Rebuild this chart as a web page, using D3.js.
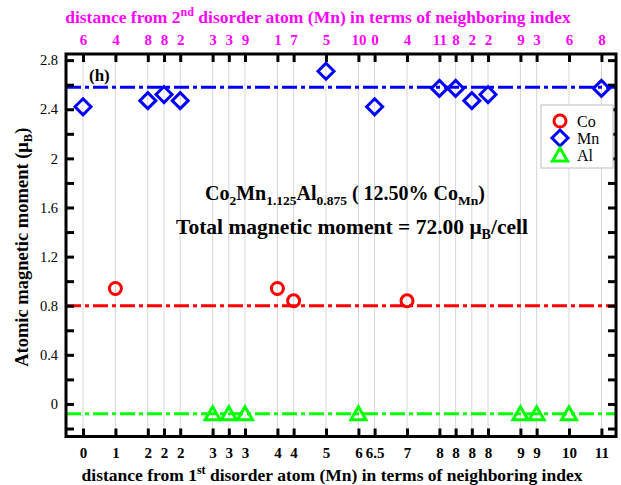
<!DOCTYPE html>
<html>
<head>
<meta charset="utf-8">
<script src="https://cdn.jsdelivr.net/npm/d3@7"></script>
<style>
  html, body { margin: 0; padding: 0; background: #fff; }
  svg { display: block; }
  text { font-family: "Liberation Serif", "Times New Roman", serif; }
</style>
</head>
<body>
<svg id="chart" width="621" height="485"></svg>
<script>
// Site slots along the x axis (one slot per neighbouring site)
const tickPos = [0, 2, 4, 5, 6, 8, 9, 10, 12, 13, 15, 17, 18, 20, 22, 23, 24, 25, 27, 28, 30, 32];
// Neighbouring index relative to the 1st disorder atom (bottom axis)
const nearLabels = ["0", "1", "2", "2", "2", "3", "3", "3", "4", "4", "5", "6", "6.5", "7", "8", "8", "8", "8", "9", "9", "10", "11"];
// Neighbouring index relative to the 2nd disorder atom (top axis)
const farLabels = ["6", "4", "8", "8", "2", "3", "3", "9", "1", "7", "5", "10", "0", "4", "11", "8", "2", "2", "9", "3", "6", "8"];

// Atomic moments (μB) per species
const coPos = [2, 12, 13, 20];
const coVal = [0.94, 0.94, 0.84, 0.84];
const mnPos = [0, 4, 5, 6, 15, 18, 22, 23, 24, 25, 32];
const mnVal = [2.42, 2.47, 2.52, 2.47, 2.71, 2.42, 2.57, 2.57, 2.47, 2.52, 2.57];
const alPos = [8, 9, 10, 17, 27, 28, 30];
const alVal = [-0.08, -0.08, -0.08, -0.08, -0.08, -0.08, -0.08];

// Bulk reference moments
const refLevels = [
  { name: "Co", value: 0.80 },
  { name: "Mn", value: 2.58 },
  { name: "Al", value: -0.08 }
];
const yTicks = [0, 0.4, 0.8, 1.2, 1.6, 2, 2.4, 2.8];
const yMinor = [-0.2, 0.2, 0.6, 1.0, 1.4, 1.8, 2.2, 2.6];

const colors = { Co: "#ff0000", Mn: "#0000ff", Al: "#00ff00" };

const svg = d3.select("#chart");
const L = 66, R = 616, T = 54, B = 436.5;

const x = d3.scaleLinear().domain([-1.05, 32.9]).range([L, R]);
const y = d3.scaleLinear().domain([-0.265, 2.85]).range([B, T]);

// vertical grid lines at each site
svg.append("g").selectAll("line").data(tickPos).join("line")
  .attr("x1", d => x(d)).attr("x2", d => x(d))
  .attr("y1", T).attr("y2", B)
  .attr("stroke", "#d6d6d6").attr("stroke-width", 1);

// reference dash-dot lines
svg.append("g").selectAll("line").data(refLevels).join("line")
  .attr("x1", L).attr("x2", R)
  .attr("y1", d => y(d.value)).attr("y2", d => y(d.value))
  .attr("stroke", d => colors[d.name])
  .attr("stroke-width", 3)
  .attr("stroke-dasharray", "15,4,4,4");

// axes with inward ticks
const axisStyle = g => {
  g.select(".domain").remove();
  g.selectAll(".tick line").attr("stroke", "#000").attr("stroke-width", 3);
};
const tickLen = 8;

svg.append("g").attr("transform", `translate(0,${B})`)
  .call(d3.axisBottom(x).tickValues(tickPos).tickSizeInner(-tickLen).tickSizeOuter(0)
    .tickFormat((d, i) => nearLabels[i]))
  .call(axisStyle)
  .call(g => g.selectAll(".tick text")
    .attr("y", 11).attr("font-size", 15).attr("font-weight", "bold").attr("fill", "#000")
    .attr("font-family", "Liberation Serif"));

svg.append("g").attr("transform", `translate(0,${T})`)
  .call(d3.axisTop(x).tickValues(tickPos).tickSizeInner(-tickLen).tickSizeOuter(0)
    .tickFormat((d, i) => farLabels[i]))
  .call(axisStyle)
  .call(g => g.selectAll(".tick text")
    .attr("y", -9).attr("font-size", 15).attr("font-weight", "bold").attr("fill", "#ff00ff")
    .attr("font-family", "Liberation Serif"));

const yAll = yTicks.concat(yMinor);
svg.append("g").attr("transform", `translate(${L},0)`)
  .call(d3.axisLeft(y).tickValues(yAll).tickSizeInner(-tickLen).tickSizeOuter(0)
    .tickFormat(d => yTicks.includes(d) ? d3.format("")(d) : ""))
  .call(axisStyle)
  .call(g => g.selectAll(".tick text")
    .attr("x", -8).attr("font-size", 14.5).attr("fill", "#000")
    .attr("font-family", "Liberation Serif"));

svg.append("g").attr("transform", `translate(${R},0)`)
  .call(d3.axisRight(y).tickValues(yAll).tickSizeInner(-tickLen).tickSizeOuter(0).tickFormat(""))
  .call(axisStyle);

// frame
svg.append("rect").attr("x", L).attr("y", T).attr("width", R - L).attr("height", B - T)
  .attr("fill", "none").attr("stroke", "#000").attr("stroke-width", 3);

// marker shapes
const circlePath = d3.symbol().type(d3.symbolCircle).size(Math.PI * 36)();
const diamondPath = "M0,-8L8,0L0,8L-8,0Z";
const trianglePath = "M0,-7L7.5,6L-7.5,6Z";
const pathFor = name => name === "Co" ? circlePath : name === "Mn" ? diamondPath : trianglePath;

const series = [
  { name: "Co", pos: coPos, val: coVal },
  { name: "Mn", pos: mnPos, val: mnVal },
  { name: "Al", pos: alPos, val: alVal }
];
series.forEach(s => {
  svg.append("g").selectAll("path").data(s.pos.map((p, i) => [p, s.val[i]])).join("path")
    .attr("transform", d => `translate(${x(d[0])},${y(d[1])})`)
    .attr("d", pathFor(s.name))
    .attr("fill", "none")
    .attr("stroke", colors[s.name])
    .attr("stroke-width", 3);
});

// legend
const lg = svg.append("g");
lg.append("rect").attr("x", 541).attr("y", 105).attr("width", 72).attr("height", 63)
  .attr("fill", "#fff").attr("stroke", "#bdbdbd").attr("stroke-width", 1);
series.forEach((s, i) => {
  const cy = 121 + i * 17;
  lg.append("path").attr("transform", `translate(560,${cy})`)
    .attr("d", pathFor(s.name)).attr("fill", "none")
    .attr("stroke", colors[s.name]).attr("stroke-width", 3);
  lg.append("text").attr("x", 577).attr("y", cy + 5.5).attr("font-size", 16).text(s.name);
});

// panel tag
svg.append("text").attr("x", 89).attr("y", 81).attr("font-size", 17).attr("font-weight", "bold").text("(h)");

// composition and total moment
const t1 = svg.append("text").attr("x", 345).attr("y", 200).attr("text-anchor", "middle")
  .attr("font-size", 20).attr("font-weight", "bold");
t1.append("tspan").text("Co");
t1.append("tspan").attr("font-size", 13.5).attr("dy", 5).text("2");
t1.append("tspan").attr("dy", -5).text("Mn");
t1.append("tspan").attr("font-size", 13.5).attr("dy", 5).text("1.125");
t1.append("tspan").attr("dy", -5).text("Al");
t1.append("tspan").attr("font-size", 13.5).attr("dy", 5).text("0.875");
t1.append("tspan").attr("dy", -5).text(" ( 12.50% Co");
t1.append("tspan").attr("font-size", 13.5).attr("dy", 5).text("Mn");
t1.append("tspan").attr("dy", -5).text(")");

const t2 = svg.append("text").attr("x", 352).attr("y", 234).attr("text-anchor", "middle")
  .attr("font-size", 21.5).attr("font-weight", "bold");
t2.append("tspan").text("Total magnetic moment = 72.00 μ");
t2.append("tspan").attr("font-size", 14).attr("dy", 5).text("B");
t2.append("tspan").attr("dy", -5).text("/cell");

// axis titles
const yl = svg.append("text").attr("transform", `translate(28,${(T + B) / 2 + 2}) rotate(-90)`)
  .attr("text-anchor", "middle").attr("font-size", 18.5).attr("font-weight", "bold");
yl.append("tspan").text("Atomic magnetic moment (μ");
yl.append("tspan").attr("font-size", 12.5).attr("dy", 4).text("B");
yl.append("tspan").attr("dy", -4).text(")");

const xb = svg.append("text").attr("x", 332).attr("y", 481).attr("text-anchor", "middle")
  .attr("font-size", 17.5).attr("font-weight", "bold");
xb.append("tspan").text("distance from 1");
xb.append("tspan").attr("font-size", 12).attr("dy", -7).text("st");
xb.append("tspan").attr("dy", 7).text(" disorder atom (Mn) in terms of neighboring index");

const xt = svg.append("text").attr("x", 318).attr("y", 23).attr("text-anchor", "middle")
  .attr("font-size", 17.5).attr("font-weight", "bold").attr("fill", "#ff00ff");
xt.append("tspan").text("distance from 2");
xt.append("tspan").attr("font-size", 12).attr("dy", -7).text("nd");
xt.append("tspan").attr("dy", 7).text(" disorder atom (Mn) in terms of neighboring index");
</script>
</body>
</html>
